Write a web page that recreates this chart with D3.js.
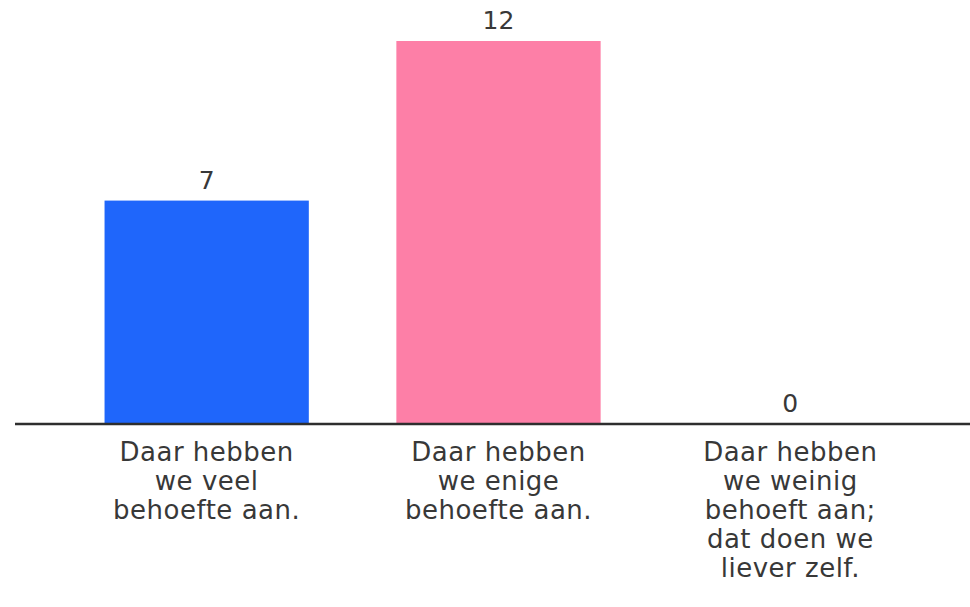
<!DOCTYPE html>
<html>
<head>
<meta charset="utf-8">
<script src="https://cdn.jsdelivr.net/npm/d3@7"></script>
<style>
  body { margin: 0; background: #fff; }
  text { font-family: "DejaVu Sans", sans-serif; fill: #383838; }
</style>
</head>
<body>
<svg width="970" height="607"></svg>
<script>
var categories = [
  ['Daar hebben', 'we veel', 'behoefte aan.'],
  ['Daar hebben', 'we enige', 'behoefte aan.'],
  ['Daar hebben', 'we weinig', 'behoeft aan;', 'dat doen we', 'liever zelf.']
];
var values = [7, 12, 0];
var colors = ['#1f66fb', '#fd7fa7', '#999999'];

var svg = d3.select('svg');

var baseY = 424;

var xScale = d3.scaleBand()
    .domain(d3.range(values.length))
    .range([17, 980])
    .paddingInner(0.3)
    .paddingOuter(0.3);

var yScale = d3.scaleLinear()
    .domain([0, 12])
    .range([baseY, 41]);

// bars
svg.selectAll('.bar')
    .data(values)
    .enter()
    .append('rect')
    .attr('class', 'bar')
    .attr('x', function (d, i) { return xScale(i); })
    .attr('y', function (d) { return yScale(d); })
    .attr('width', xScale.bandwidth())
    .attr('height', function (d) { return baseY - yScale(d); })
    .style('fill', function (d, i) { return colors[i]; });

// value labels
svg.selectAll('.value')
    .data(values)
    .enter()
    .append('text')
    .attr('class', 'value')
    .attr('x', function (d, i) { return xScale(i) + xScale.bandwidth() / 2; })
    .attr('y', function (d) { return yScale(d) - 12; })
    .attr('text-anchor', 'middle')
    .style('font-size', '25px')
    .text(function (d) { return d; });

// baseline
svg.append('line')
    .attr('x1', 15)
    .attr('x2', 970)
    .attr('y1', baseY)
    .attr('y2', baseY)
    .style('stroke', '#2e2e2e')
    .style('stroke-width', 2.5);

// category labels
svg.selectAll('.cat')
    .data(categories)
    .enter()
    .append('text')
    .attr('class', 'cat')
    .attr('text-anchor', 'middle')
    .style('font-size', '26px')
    .style('letter-spacing', '0.5px')
    .each(function (lines, i) {
      var t = d3.select(this);
      lines.forEach(function (line, j) {
        t.append('tspan')
          .attr('x', xScale(i) + xScale.bandwidth() / 2)
          .attr('y', 461 + j * 29)
          .text(line);
      });
    });
</script>
</body>
</html>
